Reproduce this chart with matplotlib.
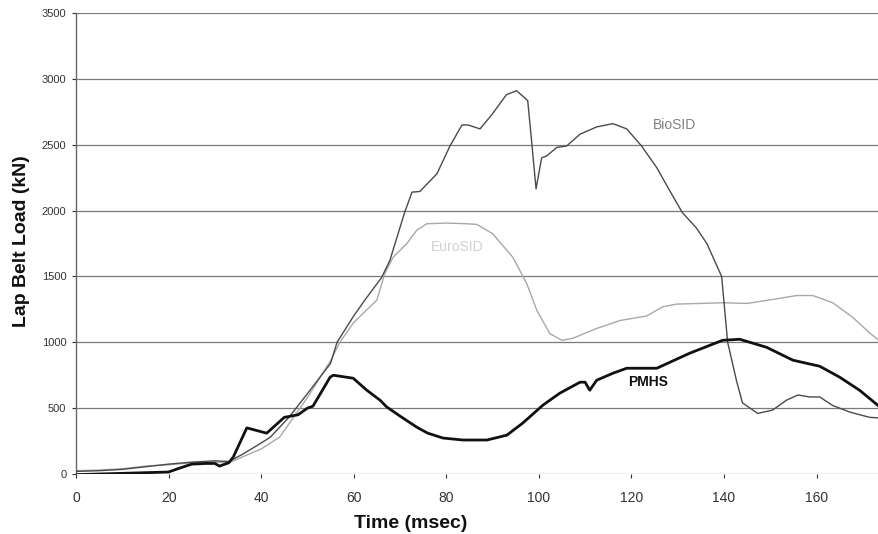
import matplotlib
matplotlib.use("Agg")
import matplotlib.pyplot as plt

# ---- data ----
biosid_t = [0, 5, 10, 15, 20, 25, 30, 33, 36, 40, 42, 46, 50, 55, 56.4, 60, 62.4, 66, 67.8,
            71, 72.6, 74.3, 78, 80.8, 83.4, 84.7, 87.3, 90, 93, 95.2, 97.6, 98.5, 99.4,
            100.6, 101.7, 103.9, 106, 108.9, 112.5, 116, 119, 122.2, 125.5, 128.3, 131,
            134, 136.3, 139.5, 140.8, 142.7, 144, 147.3, 150.5, 153.5, 156, 158.5, 160.7,
            163.5, 167.2, 171.5, 174]
biosid_v = [20, 25, 35, 55, 75, 90, 100, 95, 150, 235, 280, 430, 610, 840, 1000, 1200, 1320,
            1490, 1620, 1985, 2140, 2145, 2280, 2490, 2650, 2650, 2620, 2735, 2880, 2910,
            2835, 2505, 2165, 2400, 2415, 2480, 2490, 2580, 2635, 2660, 2620, 2490, 2325,
            2150, 1985, 1870, 1750, 1500, 1000, 710, 540, 460, 485, 560, 600, 585, 585,
            520, 470, 430, 425]

eurosid_t = [0, 5, 10, 15, 20, 25, 30, 33, 36, 40, 44, 46, 50, 55, 57, 60, 65, 66.7, 68.5,
             71.5, 73.6, 75.8, 80, 84.4, 86.6, 90, 94.4, 97.4, 99.6, 102.4, 105, 107.3,
             112.5, 117.5, 123.3, 126.8, 129.8, 135, 139.7, 145, 150.5, 155.7, 159.2,
             163.5, 167.8, 171.5, 174]
eurosid_v = [25, 30, 40, 60, 70, 85, 90, 85, 130, 190, 280, 380, 580, 860, 1000, 1150, 1320,
             1520, 1645, 1750, 1850, 1900, 1905, 1900, 1895, 1825, 1645, 1445, 1240, 1065,
             1015, 1030, 1105, 1165, 1200, 1270, 1290, 1295, 1300, 1295, 1325, 1355, 1355,
             1300, 1190, 1070, 1000]

pmhs_t = [0, 5, 10, 15, 20, 22, 25, 28, 30, 31, 33, 34, 36.9, 38, 41.2, 45, 48, 50, 51.2,
          54.9, 55.6, 59.9, 62.8, 65.7, 67.1, 70, 73.6, 76, 79.3, 83.6, 88.8, 93.1, 96.5,
          100.9, 104.5, 108.9, 110, 111, 112.5, 116, 119, 125.5, 128.3, 132.6, 139.7,
          143.4, 149.2, 154.9, 160.7, 165, 169.3, 174]
pmhs_v = [-5, 0, 5, 10, 15, 40, 75, 80, 80, 60, 85, 130, 350, 340, 310, 430, 450, 500, 515,
          735, 750, 727, 637, 560, 510, 440, 356, 310, 273, 258, 258, 295, 386, 523, 613,
          697, 697, 636, 712, 765, 803, 803, 848, 917, 1015, 1023, 962, 864, 818, 735, 636,
          500]

x_ticks = [0, 20, 40, 60, 80, 100, 120, 140, 160]
y_ticks = [0, 500, 1000, 1500, 2000, 2500, 3000, 3500]

plt.rcParams['font.family'] = ['Liberation Sans', 'DejaVu Sans']

fig = plt.figure(figsize=(8.79, 5.34), dpi=100)
ax = fig.add_axes([76 / 879, 60 / 534, 1 - 76 / 879, 461 / 534])

for y in y_ticks:
    ax.axhline(y, color='#7a7a7a', lw=0.9, zorder=1)

ax.plot(eurosid_t, eurosid_v, color='#a8a8a8', lw=1.0, zorder=2)
ax.plot(biosid_t, biosid_v, color='#4a4a4a', lw=1.0, zorder=3)
ax.plot(pmhs_t, pmhs_v, color='#111111', lw=2.0, zorder=4)

ax.text(129.4, 2650, 'BioSID', color='#808080', fontsize=10, ha='center', va='center')
ax.text(82.3, 1720, 'EuroSID', color='#d0d0d0', fontsize=10, ha='center', va='center')
ax.text(123.5, 697, 'PMHS', color='#111111', fontsize=10, fontweight='bold',
        ha='center', va='center')

ax.set_xlim(0, 173.5)
ax.set_ylim(0, 3500)
ax.set_xticks(x_ticks)
ax.set_yticks(y_ticks)
ax.tick_params(axis='x', labelsize=10, colors='#333333', length=3, pad=9)
ax.tick_params(axis='y', labelsize=8, colors='#333333', length=3, pad=4)

for s in ['top', 'right', 'bottom']:
    ax.spines[s].set_visible(False)
ax.spines['left'].set_color('#666666')
ax.spines['left'].set_linewidth(1.0)

ax.set_xlabel('Time (msec)', fontsize=14, fontweight='bold', color='#111111')
ax.set_ylabel('Lap Belt Load (kN)', fontsize=14, fontweight='bold', color='#111111')
ax.xaxis.label.set_va('center')
ax.xaxis.set_label_coords(0.417, -0.108)
ax.yaxis.set_label_coords(-0.057, 0.505)

fig.savefig('out.png', dpi=100)
